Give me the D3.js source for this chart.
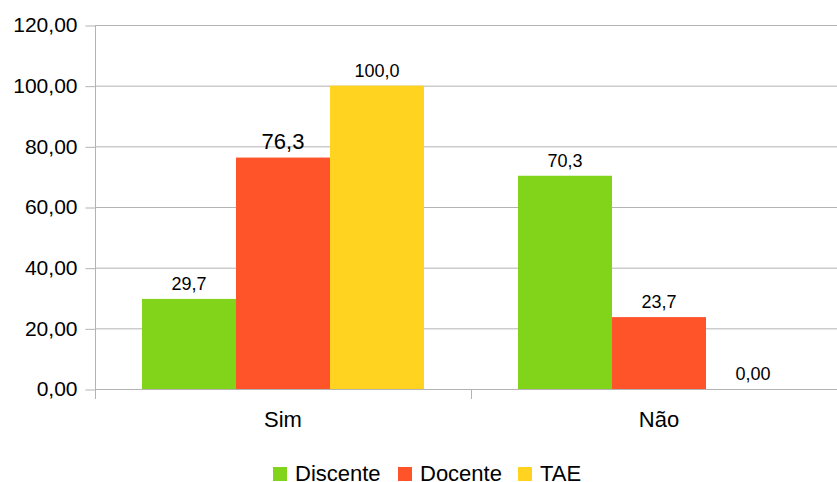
<!DOCTYPE html>
<html><head><meta charset="utf-8">
<script src="https://cdn.jsdelivr.net/npm/d3@7"></script>
<style>body{margin:0;background:#fff}svg{display:block}text{font-family:"Liberation Sans",Arial,sans-serif;fill:#000}</style>
</head><body>
<svg id="c" width="837" height="482"></svg>
<script>
const categories = ["Sim", "Não"];
const seriesNames = ["Discente", "Docente", "TAE"];
const discente = [29.7, 70.3];
const docente = [76.3, 23.7];
const tae = [100.0, 0.0];
const valueLabels = [["29,7", "70,3"], ["76,3", "23,7"], ["100,0", "0,00"]];
const yTicks = [0, 20, 40, 60, 80, 100, 120];
const yTickLabels = ["0,00", "20,00", "40,00", "60,00", "80,00", "100,00", "120,00"];
const colors = ["#81d41a", "#ff5429", "#ffd320"];

const series = [discente, docente, tae];
const svg = d3.select("#c");
const mLeft = 95, mRight = 847, mTop = 25, mBottom = 389;
const x = d3.scaleBand().domain(categories).range([mLeft, mRight]);
const xs = d3.scaleBand().domain(seriesNames).range([0, x.bandwidth()]).paddingOuter(0.5).paddingInner(0);
const y = d3.scaleLinear().domain([0, 120]).range([mBottom, mTop]);

// gridlines
svg.append("g").selectAll("line").data(yTicks).join("line")
  .attr("x1", mLeft).attr("x2", 837).attr("y1", d => y(d) + 0.5).attr("y2", d => y(d) + 0.5)
  .attr("stroke", "#b3b3b3").attr("stroke-width", 1);

// y axis
const ya = svg.append("g").attr("transform", `translate(${mLeft + 0.5},0)`)
  .call(d3.axisLeft(y).tickValues(yTicks).tickFormat((d, i) => yTickLabels[i]).tickSize(10).tickPadding(8));
ya.select(".domain").remove();
ya.selectAll(".tick line").attr("stroke", "#b3b3b3").attr("transform", "translate(0,0.5)");
ya.selectAll("text").attr("font-size", 21).attr("font-family", "Liberation Sans, Arial, sans-serif").attr("fill", "#000");
svg.append("line").attr("x1", mLeft + 0.5).attr("x2", mLeft + 0.5).attr("y1", mTop).attr("y2", mBottom + 10).attr("stroke", "#b3b3b3");

// category ticks
const bounds = [mLeft, mLeft + x.bandwidth(), mRight];
svg.append("g").selectAll("line").data(bounds).join("line")
  .attr("x1", d => d + 0.5).attr("x2", d => d + 0.5).attr("y1", mBottom).attr("y2", mBottom + 10).attr("stroke", "#b3b3b3");

// bars
seriesNames.forEach((s, si) => {
  const g = svg.append("g");
  g.selectAll("rect").data(categories).join("rect")
    .attr("x", c => x(c) + xs(s)).attr("width", xs.bandwidth())
    .attr("y", (c, ci) => y(series[si][ci])).attr("height", (c, ci) => mBottom - y(series[si][ci]))
    .attr("fill", colors[si]);
  g.selectAll("text").data(categories).join("text")
    .attr("x", c => x(c) + xs(s) + xs.bandwidth() / 2)
    .attr("y", (c, ci) => y(series[si][ci]) - 9)
    .attr("text-anchor", "middle")
    .attr("font-size", (c, ci) => (si === 1 && ci === 0) ? 22 : 18)
    .text((c, ci) => valueLabels[si][ci]);
});

// category labels
svg.append("g").selectAll("text").data(categories).join("text")
  .attr("x", c => x(c) + x.bandwidth() / 2).attr("y", 427)
  .attr("text-anchor", "middle").attr("font-size", 22).text(c => c);

// legend
const legX = [273, 398, 518];
const lg = svg.append("g");
seriesNames.forEach((s, i) => {
  lg.append("rect").attr("x", legX[i]).attr("y", 467).attr("width", 14).attr("height", 14).attr("fill", colors[i]);
  lg.append("text").attr("x", legX[i] + 22).attr("y", 481).attr("font-size", 22).text(s);
});
</script>
</body></html>
